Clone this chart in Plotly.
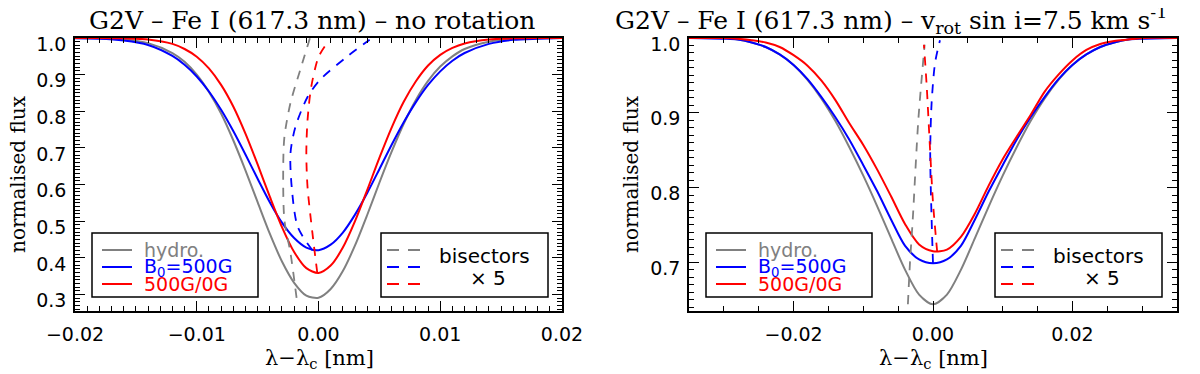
import plotly.graph_objects as go

W, H = 1200, 374
PAGE = 8  # the browser's default body margin shifts the figure by this much
GRAY, BLUE, RED = "#808080", "#0000ff", "#ff0000"

# ---- left panel: no rotation ----
x_left = [-0.020, -0.018, -0.016, -0.014, -0.012, -0.011, -0.010, -0.009, -0.008, -0.007,
          -0.006, -0.005, -0.004, -0.003, -0.002, -0.001, 0.000, 0.001, 0.002, 0.003,
          0.004, 0.005, 0.006, 0.007, 0.008, 0.009, 0.010, 0.011, 0.012, 0.014,
          0.016, 0.018, 0.020]
hydro_left = [1.000, 0.999, 0.996, 0.986, 0.959, 0.935, 0.900, 0.853, 0.794, 0.721,
              0.639, 0.552, 0.466, 0.390, 0.332, 0.297, 0.291, 0.315, 0.364, 0.434,
              0.517, 0.605, 0.689, 0.766, 0.831, 0.883, 0.922, 0.950, 0.970, 0.990,
              0.997, 0.999, 1.000]
b500_left = [0.999, 0.998, 0.993, 0.981, 0.951, 0.927, 0.895, 0.854, 0.804, 0.746,
             0.682, 0.616, 0.552, 0.496, 0.454, 0.428, 0.421, 0.436, 0.469, 0.518,
             0.577, 0.642, 0.708, 0.770, 0.825, 0.872, 0.909, 0.938, 0.959, 0.984,
             0.995, 0.998, 1.000]
mix_left = [1.000, 1.000, 0.999, 0.996, 0.984, 0.970, 0.949, 0.917, 0.872, 0.813,
            0.739, 0.655, 0.567, 0.484, 0.416, 0.372, 0.359, 0.379, 0.428, 0.500,
            0.585, 0.673, 0.755, 0.826, 0.882, 0.925, 0.954, 0.973, 0.985, 0.996,
            0.999, 1.000, 1.000]

# bisectors (x5), left panel
bis_hydro_left_x = [-0.0018, -0.0023, -0.0028, -0.0029, -0.0028, -0.0023, -0.0015, -0.0007]
bis_hydro_left_y = [0.291, 0.413, 0.503, 0.640, 0.730, 0.823, 0.913, 1.000]
bis_b500_left_x = [-0.0005, -0.0017, -0.0022, -0.0023, -0.0019, -0.0009, 0.0001, 0.0023, 0.0042]
bis_b500_left_y = [0.421, 0.484, 0.593, 0.686, 0.757, 0.839, 0.885, 0.948, 0.995]
bis_mix_left_x = [-0.0001, -0.0005, -0.0009, -0.0010, -0.0009, -0.0006, 0.0000, 0.0006]
bis_mix_left_y = [0.359, 0.468, 0.593, 0.686, 0.776, 0.866, 0.948, 0.981]

# ---- right panel: vsini = 7.5 km/s ----
x_right = [-0.035, -0.030, -0.028, -0.026, -0.024, -0.022, -0.020, -0.018, -0.016, -0.014,
           -0.012, -0.010, -0.008, -0.006, -0.004, -0.002, 0.000, 0.002, 0.004, 0.006,
           0.008, 0.010, 0.012, 0.014, 0.016, 0.018, 0.020, 0.022, 0.024, 0.026,
           0.028, 0.030, 0.035]
hydro_right = [1.000, 1.000, 0.998, 0.994, 0.988, 0.978, 0.964, 0.944, 0.919, 0.889,
               0.854, 0.816, 0.775, 0.732, 0.690, 0.657, 0.644, 0.657, 0.690, 0.732,
               0.775, 0.816, 0.854, 0.889, 0.919, 0.944, 0.964, 0.978, 0.988, 0.994,
               0.998, 1.000, 1.000]
b500_right = [1.000, 0.999, 0.998, 0.994, 0.988, 0.978, 0.964, 0.945, 0.921, 0.894,
              0.864, 0.830, 0.795, 0.757, 0.722, 0.704, 0.699, 0.704, 0.722, 0.757,
              0.795, 0.830, 0.864, 0.894, 0.921, 0.945, 0.964, 0.978, 0.988, 0.994,
              0.998, 0.999, 1.000]
mix_right = [1.000, 1.000, 0.999, 0.997, 0.994, 0.988, 0.977, 0.963, 0.943, 0.917,
             0.886, 0.857, 0.824, 0.788, 0.751, 0.724, 0.715, 0.717, 0.734, 0.765,
             0.803, 0.838, 0.868, 0.897, 0.928, 0.951, 0.970, 0.984, 0.992, 0.996,
             0.998, 1.000, 1.000]

bis_hydro_right_x = [-0.0036, -0.0033, -0.0029, -0.0021, -0.0012]
bis_hydro_right_y = [0.644, 0.700, 0.758, 0.891, 0.991]
bis_b500_right_x = [0.0000, -0.0002, -0.0004, -0.0002, 0.0003, 0.0010]
bis_b500_right_y = [0.699, 0.758, 0.847, 0.913, 0.967, 0.997]
bis_mix_right_x = [0.0006, 0.0000, -0.0004, -0.0009, -0.0013]
bis_mix_right_y = [0.714, 0.780, 0.847, 0.935, 0.991]

profile_labels = ["hydro.", "B<sub>0</sub>=500G", "500G/0G"]
profile_colors = [GRAY, BLUE, RED]


def px(x):
    return (x - PAGE) / W


def py(y):
    return 1 - (y - PAGE) / H


fig = go.Figure()

panels = [
    ("x", "y", x_left, [hydro_left, b500_left, mix_left],
     [(bis_hydro_left_x, bis_hydro_left_y), (bis_b500_left_x, bis_b500_left_y),
      (bis_mix_left_x, bis_mix_left_y)]),
    ("x2", "y2", x_right, [hydro_right, b500_right, mix_right],
     [(bis_hydro_right_x, bis_hydro_right_y), (bis_b500_right_x, bis_b500_right_y),
      (bis_mix_right_x, bis_mix_right_y)]),
]
for xa, ya, xs, profiles, bisectors in panels:
    for prof, col in zip(profiles, profile_colors):
        fig.add_trace(go.Scatter(x=xs, y=prof, mode="lines", xaxis=xa, yaxis=ya,
                                 line=dict(color=col, width=2, shape="spline", smoothing=0.8),
                                 showlegend=False))
    for (bx, by), col in zip(bisectors, profile_colors):
        fig.add_trace(go.Scatter(x=bx, y=by, mode="lines", xaxis=xa, yaxis=ya,
                                 line=dict(color=col, width=1.8, dash="9px,8px",
                                           shape="spline", smoothing=0.8),
                                 showlegend=False))


def axis(domain, rng, dtick, minor, anchor, fmt, is_y=False):
    a = dict(domain=domain, range=rng, dtick=dtick, tick0=0, tickformat=fmt,
             ticks="inside", ticklen=10, tickwidth=1.3, tickcolor="black",
             minor=dict(ticks="inside", dtick=minor, ticklen=5, tickwidth=1, tickcolor="black"),
             showline=True, linewidth=1.5, linecolor="black", mirror="ticks",
             showgrid=False, zeroline=False, anchor=anchor, automargin=False,
             tickfont=dict(family="DejaVu Sans", size=19, color="black"))
    if is_y:
        a.update(ticklabelshift=6, ticklabelstandoff=3)
    else:
        a.update(ticklabelstandoff=5)
    return a


ydom = [py(311), py(38)]
fig.update_layout(
    width=W, height=H, autosize=False,
    margin=dict(l=0, r=0, t=0, b=0),
    paper_bgcolor="white", plot_bgcolor="white",
    xaxis=axis([px(75), px(562)], [-0.02, 0.02], 0.01, 0.001, "y", ".2f"),
    yaxis=axis(ydom, [0.255, 1.0], 0.1, 0.01, "x", ".1f", True),
    xaxis2=axis([px(689), px(1177)], [-0.035, 0.035], 0.02, 0.005, "y2", ".2f"),
    yaxis2=axis(ydom, [0.635, 1.0], 0.1, 0.01, "x2", ".1f", True),
)

serif = dict(family="DejaVu Serif", size=25, color="black")
ann = [
    dict(x=px(312), y=py(20), text="G2V – Fe I (617.3 nm) – no rotation",
         xanchor="center", font=serif),
    dict(x=px(613), y=py(20),
         text="G2V – Fe I (617.3 nm) – v<sub>rot</sub> sin i=7.5 km s<sup>-1</sup>",
         xanchor="left", font=serif),
]
for cx, ylab_x in [(319, 18), (933, 631)]:
    ann.append(dict(x=px(cx), y=py(359), text="λ−λ<sub>c</sub> [nm]",
                    xanchor="center", font=dict(family="DejaVu Serif", size=21, color="black")))
    ann.append(dict(x=px(ylab_x), y=py(174), text="normalised flux", textangle=-90,
                    xanchor="center", font=dict(family="DejaVu Serif", size=20, color="black")))

shapes = []
rows = [250, 267, 284]
sans = "DejaVu Sans"
for shift in [0, 614]:
    # profile legend box
    bx0, bx1 = 92 + shift, 258 + shift
    shapes.append(dict(type="rect", xref="paper", yref="paper", x0=px(bx0), x1=px(bx1),
                       y0=py(297), y1=py(233), line=dict(color="black", width=1.5),
                       fillcolor="white", layer="above"))
    for ry, lab, col in zip(rows, profile_labels, profile_colors):
        shapes.append(dict(type="line", xref="paper", yref="paper", x0=px(bx0 + 10),
                           x1=px(bx0 + 40), y0=py(ry), y1=py(ry),
                           line=dict(color=col, width=2)))
        ann.append(dict(x=px(bx0 + 50), y=py(ry), text=lab, xanchor="left",
                        font=dict(family=sans, size=19, color=col)))
    # bisector legend box
    cx0, cx1 = 381 + shift, 548 + shift
    shapes.append(dict(type="rect", xref="paper", yref="paper", x0=px(cx0), x1=px(cx1),
                       y0=py(297), y1=py(233), line=dict(color="black", width=1.5),
                       fillcolor="white", layer="above"))
    for ry, col in zip(rows, profile_colors):
        shapes.append(dict(type="line", xref="paper", yref="paper", x0=px(cx0 + 6),
                           x1=px(cx0 + 41), y0=py(ry), y1=py(ry),
                           line=dict(color=col, width=1.8, dash="12px,9px")))
    ann.append(dict(x=px(cx0 + 56), y=py(256), text="bisectors", xanchor="left",
                    font=dict(family=sans, size=20, color="black")))
    ann.append(dict(x=px(cx0 + 87), y=py(278), text="× 5", xanchor="left",
                    font=dict(family=sans, size=20, color="black")))

for a in ann:
    a.update(xref="paper", yref="paper", showarrow=False)
    a.setdefault("yanchor", "middle")
fig.update_layout(annotations=ann, shapes=shapes)

fig.write_html("out.html")
